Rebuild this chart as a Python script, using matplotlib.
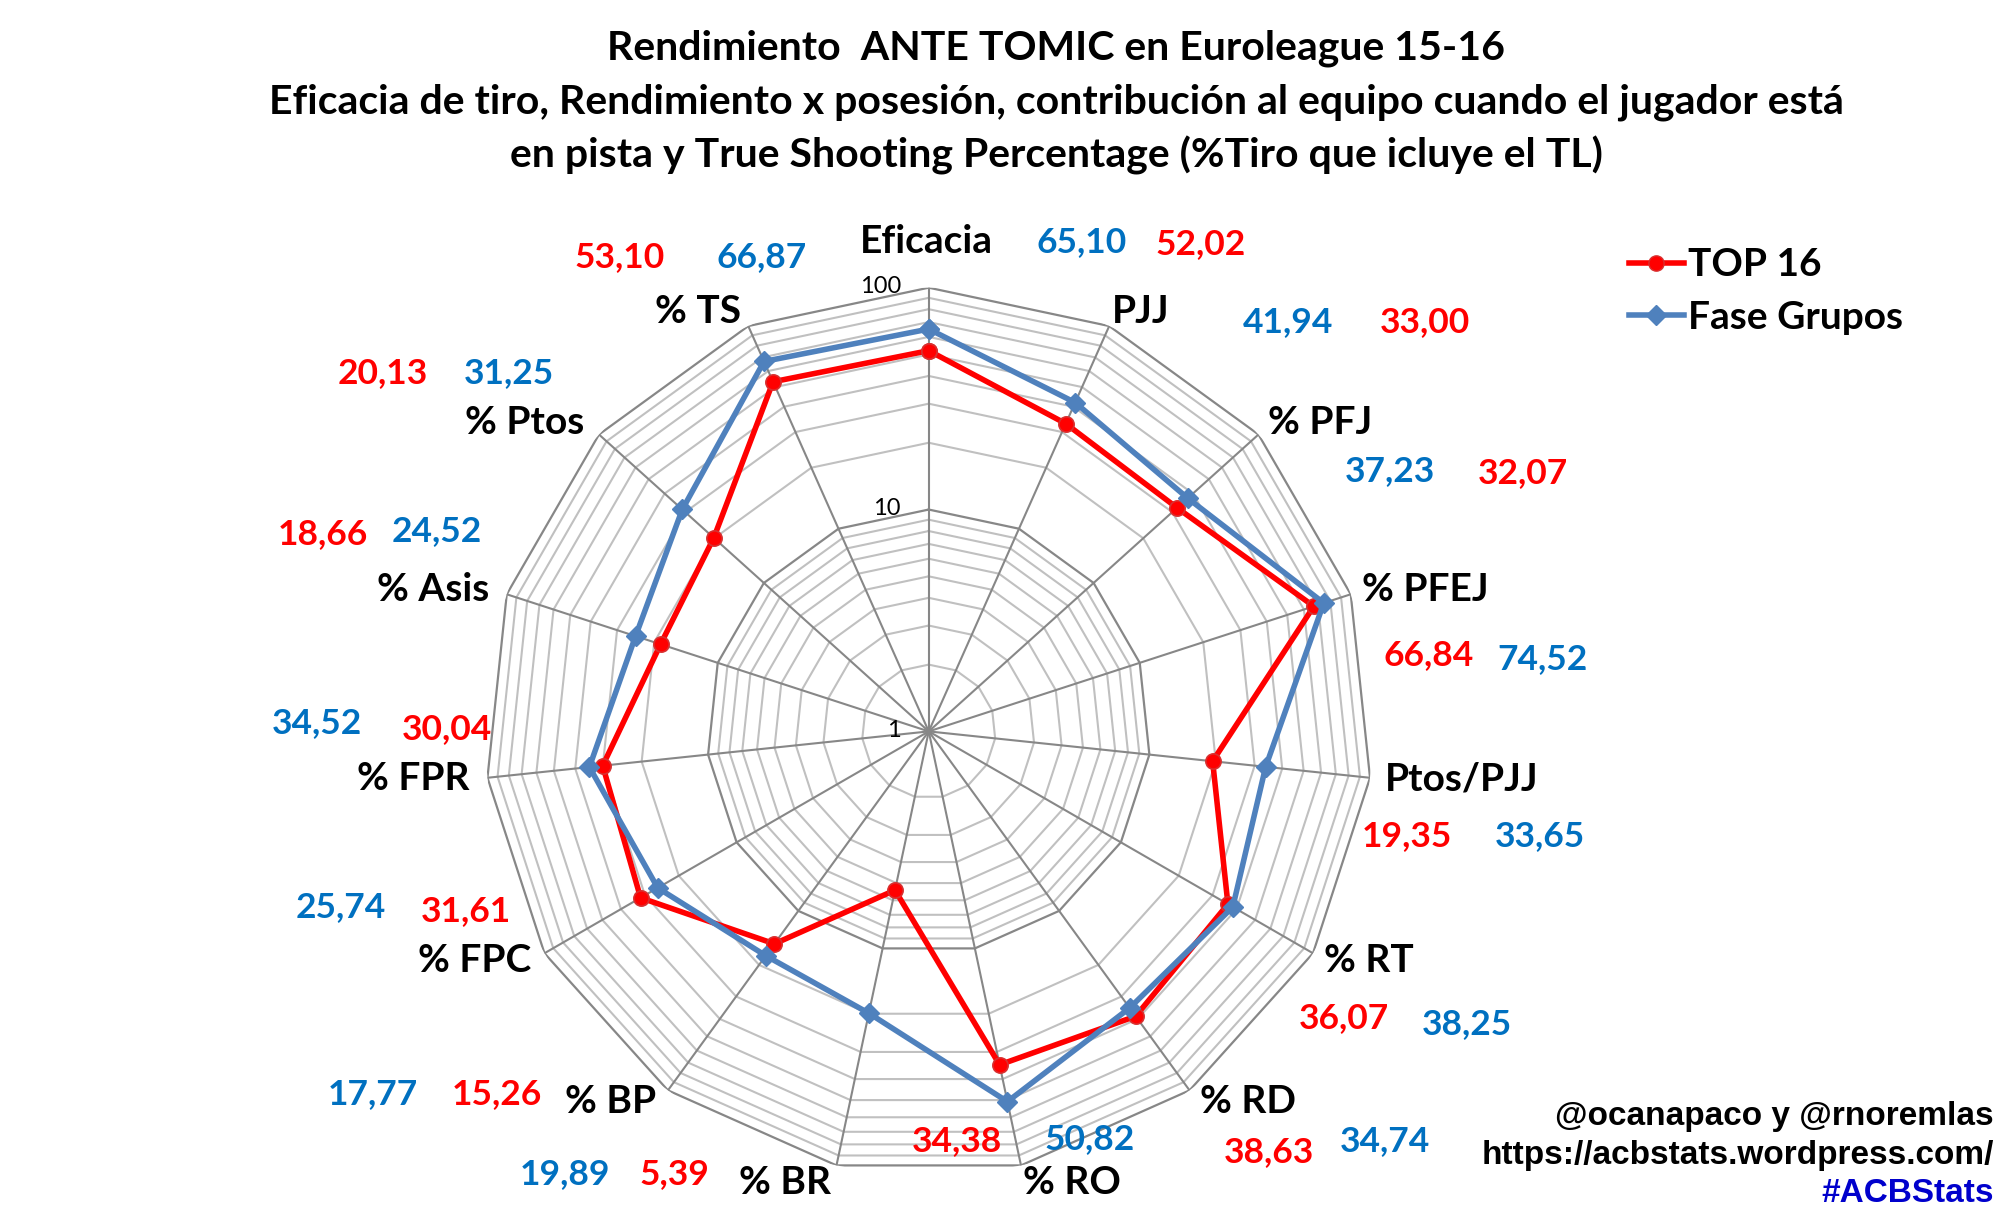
import numpy as np
import matplotlib.pyplot as plt
from matplotlib.lines import Line2D

categories = ['Eficacia', 'PJJ', '% PFJ', '% PFEJ', 'Ptos/PJJ', '% RT', '% RD',
              '% RO', '% BR', '% BP', '% FPC', '% FPR', '% Asis', '% Ptos', '% TS']
top16 = [52.02, 33.00, 32.07, 66.84, 19.35, 36.07, 38.63, 34.38, 5.39, 15.26,
         31.61, 30.04, 18.66, 20.13, 53.10]
fase_grupos = [65.10, 41.94, 37.23, 74.52, 33.65, 38.25, 34.74, 50.82, 19.89,
               17.77, 25.74, 34.52, 24.52, 31.25, 66.87]
r_ticks = [1, 10, 100]
minor_levels = [2, 3, 4, 5, 6, 7, 8, 9, 20, 30, 40, 50, 60, 70, 80, 90]

# text positions in (x, y) pixels of a 1568x958 view
cat_pos = [(728, 190), (896, 245), (1037, 332), (1120, 463), (1148, 612),
           (1075, 755), (980, 866), (842, 929), (617, 929), (480, 866),
           (373, 755), (325, 612), (340, 463), (412, 332), (548, 245)]
red_pos = [(943, 192), (1119, 253), (1196, 372), (1122, 515), (1105, 657),
           (1056, 800), (997, 905), (752, 897), (530, 923), (390, 860),
           (366, 716), (351, 573), (254, 420), (301, 293), (487, 202)]
blue_pos = [(850, 190), (1012, 253), (1092, 370), (1212, 518), (1210, 657),
            (1152, 805), (1088, 897), (856, 895), (444, 923), (293, 860),
            (268, 713), (249, 568), (343, 417), (400, 293), (598, 202)]

RED = '#FF0000'
BLUE_LINE = '#4F81BD'
BLUE_TXT = '#0070C0'
GRID_MAJ = '#878787'
GRID_MIN = '#C0C0C0'
FONT = 'Lato'


def fpos(p):
    return p[0] / 1568, 1 - p[1] / 958


fig = plt.figure(figsize=(19.96, 12.19), dpi=100)
ax = fig.add_axes([0.2430, 0.0360, 0.4446, 0.7280], projection='polar')
ax.set_theta_zero_location('N')
ax.set_theta_direction(-1)
ax.set_rscale('log')
ax.set_rlim(1, 100)
ax.spines['polar'].set_visible(False)

n = len(categories)
angles = np.arange(n) * 2 * np.pi / n
ang_c = np.append(angles, angles[0])

ax.set_xticks(angles)
ax.set_xticklabels([])
ax.xaxis.grid(True, color=GRID_MAJ, lw=1.5)
ax.yaxis.grid(False)
ax.set_yticks([])
ax.set_yticks([], minor=True)

for v in minor_levels:
    ax.plot(ang_c, [v] * (n + 1), color=GRID_MIN, lw=1.5, zorder=1)
for v in r_ticks[1:]:
    ax.plot(ang_c, [v] * (n + 1), color=GRID_MAJ, lw=1.6, zorder=1.5)
for v in r_ticks:
    ax.annotate(str(v), xy=(0, v), xytext=(-20, 1), textcoords='offset points',
                ha='right', va='center', fontsize=17, family=FONT)

ax.plot(ang_c, np.append(top16, top16[0]), color=RED, lw=4, marker='o',
        ms=11, mfc=RED, mec='#D83030', mew=1.2, zorder=3)
ax.plot(ang_c, np.append(fase_grupos, fase_grupos[0]), color=BLUE_LINE, lw=4,
        marker='D', ms=10, mfc=BLUE_LINE, mec=BLUE_LINE, zorder=4)

for i, cat in enumerate(categories):
    x, y = fpos(cat_pos[i])
    fig.text(x, y, cat, ha='center', va='center', fontsize=28,
             fontweight='bold', family=FONT)
    x, y = fpos(red_pos[i])
    fig.text(x, y, f'{top16[i]:.2f}'.replace('.', ','), ha='center',
             va='center', fontsize=25.5, fontweight='bold', color=RED,
             family=FONT)
    x, y = fpos(blue_pos[i])
    fig.text(x, y, f'{fase_grupos[i]:.2f}'.replace('.', ','), ha='center',
             va='center', fontsize=25.5, fontweight='bold', color=BLUE_TXT,
             family=FONT)

title_lines = ['Rendimiento  ANTE TOMIC en Euroleague 15-16',
               'Eficacia de tiro, Rendimiento x posesión, contribución al equipo cuando el jugador está',
               'en pista y True Shooting Percentage (%Tiro que icluye el TL)']
for k, line in enumerate(title_lines):
    fig.text(0.5293, 1 - (38 + 42 * k) / 958, line, ha='center', va='center',
             fontsize=29.5, fontweight='bold', family=FONT)

handles = [Line2D([], [], color=RED, lw=4, marker='o', ms=11, mfc=RED,
                  mec='#D83030'),
           Line2D([], [], color=BLUE_LINE, lw=4, marker='D', ms=10,
                  mfc=BLUE_LINE)]
fig.legend(handles, ['TOP 16', 'Fase Grupos'], loc='upper left',
           bbox_to_anchor=(0.8065, 0.813), frameon=False, borderpad=0,
           handlelength=1.4, handletextpad=0.1, labelspacing=0.45,
           prop={'family': FONT, 'weight': 'bold', 'size': 28})

fig.text(0.999, 0.084, '@ocanapaco y @rnoremlas', ha='right', va='center',
         fontsize=24, fontweight='bold', family='Liberation Sans')
fig.text(0.999, 0.052, 'https://acbstats.wordpress.com/', ha='right',
         va='center', fontsize=24, fontweight='bold', family='Liberation Sans')
fig.text(0.999, 0.021, '#ACBStats', ha='right', va='center', fontsize=24,
         fontweight='bold', color='#0000CC', family='Liberation Sans')

fig.savefig('out.png', dpi=100)
